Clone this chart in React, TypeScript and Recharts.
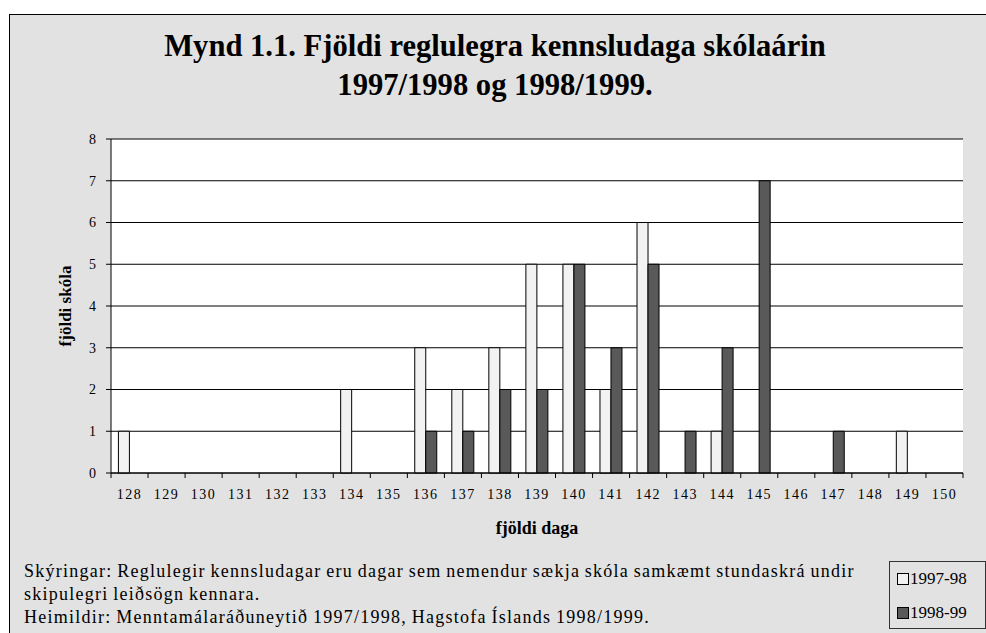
import { BarChart, Bar, XAxis, YAxis, CartesianGrid, Legend, Label } from 'recharts';

const days = [
  '128', '129', '130', '131', '132', '133', '134', '135', '136', '137', '138', '139',
  '140', '141', '142', '143', '144', '145', '146', '147', '148', '149', '150',
];
const year9798 = [1, 0, 0, 0, 0, 0, 2, 0, 3, 2, 3, 5, 5, 2, 6, 0, 1, 0, 0, 0, 0, 1, 0];
const year9899 = [0, 0, 0, 0, 0, 0, 0, 0, 1, 1, 2, 2, 5, 3, 5, 1, 3, 7, 0, 1, 0, 0, 0];
const yTicks = [0, 1, 2, 3, 4, 5, 6, 7, 8];

const chartData = days.map((day, i) => ({ day, a: year9798[i], b: year9899[i] }));

const SERIF = '"Times New Roman", "Liberation Serif", Tinos, "DejaVu Serif", serif';
const X_TICK_SIZE = 5;
const X_TICK_MARGIN = 11;

// category ticks sit on the band edges, labels in the middle
const DayTick = (props: any) => {
  const { x, y, payload, index, width, visibleTicksCount } = props;
  const axisY = y - X_TICK_SIZE - X_TICK_MARGIN;
  const band = typeof width === 'number' && visibleTicksCount ? width / visibleTicksCount : 0;
  const left = x - band / 2;
  return (
    <g>
      {band > 0 && <line x1={left} x2={left} y1={axisY} y2={axisY + X_TICK_SIZE} stroke="#000" />}
      {band > 0 && index === visibleTicksCount - 1 && (
        <line x1={left + band} x2={left + band} y1={axisY} y2={axisY + X_TICK_SIZE} stroke="#000" />
      )}
      <text x={x} y={y} dy="0.71em" textAnchor="middle" fontSize={14} letterSpacing={1.5} fontFamily={SERIF} fill="#000">
        {payload.value}
      </text>
    </g>
  );
};

const LegendBox = (props: any) => {
  const { payload } = props;
  return (
    <div
      style={{
        border: '1px solid #333',
        boxSizing: 'border-box',
        width: 97,
        height: 68,
        padding: '4px 0 0 7px',
        fontFamily: SERIF,
        fontSize: 17,
        color: '#000',
      }}
    >
      {(payload || []).map((item: any) => (
        <div key={item.value} style={{ display: 'flex', alignItems: 'center', height: 26, marginBottom: 8 }}>
          <span
            style={{
              display: 'inline-block',
              width: 10,
              height: 10,
              border: '1px solid #000',
              background: item.color,
              marginRight: 1,
            }}
          />
          <span>{item.value}</span>
        </div>
      ))}
    </div>
  );
};

const YTitle = (props: any) => {
  const { viewBox } = props;
  const cx = viewBox.x + 14;
  const cy = viewBox.y + viewBox.height / 2;
  return (
    <text
      x={cx}
      y={cy}
      transform={`rotate(-90 ${cx} ${cy})`}
      textAnchor="middle"
      dominantBaseline="central"
      fontFamily={SERIF}
      fontWeight="bold"
      fontSize={17}
      fill="#000"
    >
      fjöldi skóla
    </text>
  );
};

const XTitle = (props: any) => {
  const { viewBox } = props;
  return (
    <text
      x={viewBox.x + viewBox.width / 2}
      y={viewBox.y + viewBox.height + 25}
      textAnchor="middle"
      dominantBaseline="central"
      fontFamily={SERIF}
      fontWeight="bold"
      fontSize={18}
      fill="#000"
    >
      fjöldi daga
    </text>
  );
};

export default function App() {
  return (
    <div style={{ position: 'absolute', left: 0, top: 0, width: 986, height: 633, overflow: 'hidden', background: '#fff' }}>
      <div
        style={{
          position: 'absolute',
          left: 9,
          top: 14,
          width: 990,
          height: 640,
          border: '1px solid #000',
          background: '#e2e2e2',
        }}
      />
      <div
        style={{
          position: 'absolute',
          left: 0,
          width: 986,
          top: 27,
          textAlign: 'center',
          fontFamily: SERIF,
          fontWeight: 'bold',
          fontSize: 30.6,
          lineHeight: '39px',
          color: '#000',
        }}
      >
        <div style={{ marginLeft: 4 }}>Mynd 1.1. Fjöldi reglulegra kennsludaga skólaárin</div>
        <div style={{ marginLeft: 4 }}>1997/1998 og 1998/1999.</div>
      </div>
      <div style={{ position: 'absolute', left: 0, top: 0 }}>
        <BarChart
          width={986}
          height={633}
          data={chartData}
          margin={{ top: 139, right: 23, bottom: 130, left: 51 }}
          barCategoryGap="20%"
          barGap={0}
        >
          <CartesianGrid vertical={false} stroke="#000" fill="#fff" />
          <XAxis
            dataKey="day"
            height={30}
            interval={0}
            axisLine={{ stroke: '#000' }}
            tickLine={false}
            tickSize={X_TICK_SIZE}
            tickMargin={X_TICK_MARGIN}
            tick={<DayTick />}
          >
            <Label content={<XTitle />} />
          </XAxis>
          <XAxis xAxisId="top" dataKey="day" orientation="top" height={0} tick={false} tickLine={false} axisLine={{ stroke: '#808080', strokeWidth: 2 }} />
          <YAxis
            width={60}
            domain={[0, 8]}
            ticks={yTicks}
            interval={0}
            axisLine={{ stroke: '#000' }}
            tickLine={{ stroke: '#000' }}
            tickSize={5}
            tickMargin={10}
            tick={{ fontSize: 14, fill: '#000', fontFamily: SERIF }}
          >
            <Label content={<YTitle />} />
          </YAxis>
          <YAxis yAxisId="right" orientation="right" width={0} tick={false} tickLine={false} axisLine={{ stroke: '#808080', strokeWidth: 2 }} />
          <Legend
            layout="horizontal"
            verticalAlign="middle"
            align="center"
            content={<LegendBox />}
            wrapperStyle={{ left: 889, top: 561, width: 97, height: 68 }}
          />
          <Bar dataKey="a" name="1997-98" fill="#f2f2f2" stroke="#000" strokeWidth={1} isAnimationActive={false} />
          <Bar dataKey="b" name="1998-99" fill="#595959" stroke="#000" strokeWidth={1} isAnimationActive={false} />
        </BarChart>
      </div>
      <div
        style={{
          position: 'absolute',
          left: 24,
          top: 560,
          fontFamily: SERIF,
          fontSize: 18,
          lineHeight: '23px',
          letterSpacing: 1.25,
          wordSpacing: -1,
          color: '#000',
          whiteSpace: 'nowrap',
        }}
      >
        <div>Skýringar: Reglulegir kennsludagar eru dagar sem nemendur sækja skóla samkæmt stundaskrá undir</div>
        <div>skipulegri leiðsögn kennara.</div>
        <div>Heimildir: Menntamálaráðuneytið 1997/1998, Hagstofa Íslands 1998/1999.</div>
      </div>
    </div>
  );
}
